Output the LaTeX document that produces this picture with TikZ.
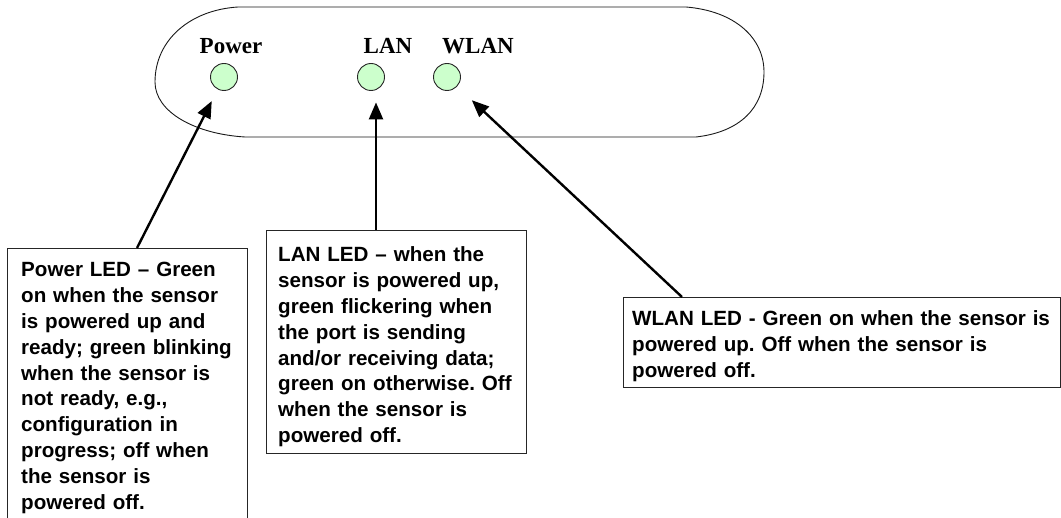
\documentclass[tikz,border=0pt]{standalone}
\usepackage{fontspec}
\setmainfont{Liberation Serif}
\setsansfont{Liberation Sans}
\usetikzlibrary{arrows.meta,calc}
\definecolor{ledgreen}{RGB}{204,255,204}
\frenchspacing
\begin{document}
\begin{tikzpicture}[x=1pt,y=-1pt,
  ledlabel/.style={font=\fontsize{23}{26}\selectfont\bfseries, anchor=base, inner sep=0pt},
  led/.style={circle, draw=black!85, line width=0.9pt, fill=ledgreen, minimum size=27pt, inner sep=0pt},
  infobox/.style={draw=black!85, line width=1.3pt, anchor=north west, inner sep=0pt},
  infotext/.style={font=\sffamily\bfseries\fontsize{20.6}{25.8}\selectfont\frenchspacing, anchor=base west, align=left, inner sep=0pt, text width=#1},
  arr/.style={line width=2.4pt, -{Triangle[length=17pt,width=14pt]}},
  outline/.style={line width=0.9pt, draw=black!90}]
\useasboundingbox[fill=white] (0,0) rectangle (1061,518);
\clip (0,0) rectangle (1061,518);

% device outline
\draw[outline] (238,7) -- (686,7)
  .. controls (735,11) and (764,38) .. (764,72)
  .. controls (764,108) and (740,132) .. (696,137)
  -- (245,137)
  .. controls (195,134) and (155,112) .. (155,82)
  .. controls (155,40) and (190,10) .. (238,7) -- cycle;

% LED labels
\node[ledlabel] (plabel) at (231,54) {Power};
\node[ledlabel] (llabel) at (388,54) {LAN};
\node[ledlabel] (wlabel) at (478,54) {WLAN};

% LEDs
\node[led] (pled) at (224,77) {};
\node[led] (lled) at (371,77) {};
\node[led] (wled) at (447,77) {};

% boxes
\node[infobox, minimum width=240pt, minimum height=300pt] (pbox) at (7,248) {};
\node[infobox, minimum width=260pt, minimum height=223pt] (lbox) at (266,230) {};
\node[infobox, minimum width=437pt, minimum height=90pt] (wbox) at (623,297) {};

% texts
\node[infotext=226pt] (ptext) at (21,277) {Power LED – Green\\on when the sensor\\is powered up and\\ready; green blinking\\when the sensor is\\not ready, e.g.,\\configuration in\\progress; off when\\the sensor is\\powered off.};
\node[infotext=246pt] (ltext) at (278,262) {LAN LED – when the\\sensor is powered up,\\green flickering when\\the port is sending\\and/or receiving data;\\green on otherwise. Off\\when the sensor is\\powered off.};
\node[infotext=460pt] (wtext) at (632,326) {WLAN LED - Green on when the sensor is\\powered up. Off when the sensor is\\powered off.};

% arrows
\coordinate (ptail) at ($(pbox.north west)+(130,0)$);
\coordinate (ltail) at ($(lbox.north west)+(110,0)$);
\coordinate (wtail) at ($(wbox.north west)+(59,0)$);
\draw[arr, shorten >=27pt] (ptail) -- (pled.center);
\draw[arr, shorten >=11.5pt] (ltail) -- (ltail |- lled.south);
\draw[arr, shorten >=34pt] (wtail) -- (wled.center);
\end{tikzpicture}
\end{document}
